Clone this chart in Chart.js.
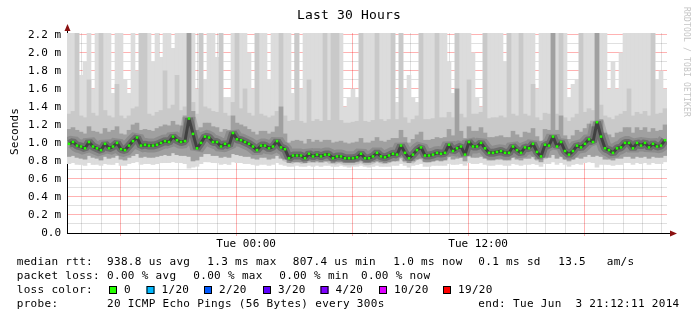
<!DOCTYPE html>
<html>
<head>
<meta charset="utf-8">
<script src="https://cdn.jsdelivr.net/npm/chart.js@4.4.1/dist/chart.umd.min.js"></script>
<style>
  html, body { margin: 0; padding: 0; background: #fff; }
  #wrap { width: 697px; height: 321px; }
</style>
</head>
<body>
<div id="wrap"><canvas id="smoke" width="697" height="321"></canvas></div>
<script>
// --- smokeping "Last 30 Hours" graph, values in ms, one column per 12 minutes ---

const medianRtt = [
  0.99, 1.01, 0.97, 0.96, 0.94, 1.01, 0.96, 0.94, 0.92, 0.99,
  0.94, 0.96, 1.00, 0.93, 0.92, 0.97, 1.02, 1.06, 0.97, 0.98,
  0.97, 0.97, 0.98, 1.00, 1.02, 1.01, 1.07, 1.03, 1.01, 1.02,
  1.27, 1.10, 0.94, 1.00, 1.07, 1.06, 1.01, 1.01, 0.96, 0.99,
  0.97, 1.11, 1.04, 1.03, 1.01, 0.99, 0.96, 0.92, 0.97, 0.97,
  0.94, 0.96, 1.02, 0.95, 0.93, 0.83, 0.86, 0.86, 0.86, 0.83,
  0.88, 0.85, 0.87, 0.85, 0.87, 0.87, 0.83, 0.85, 0.85, 0.83,
  0.83, 0.83, 0.84, 0.88, 0.83, 0.83, 0.85, 0.89, 0.85, 0.84,
  0.86, 0.88, 0.87, 0.97, 0.89, 0.83, 0.87, 0.92, 0.95, 0.86,
  0.86, 0.87, 0.89, 0.88, 0.89, 0.98, 0.91, 0.94, 0.96, 0.87,
  1.01, 0.96, 0.96, 1.00, 0.94, 0.89, 0.89, 0.90, 0.91, 0.89,
  0.89, 0.96, 0.92, 0.89, 0.95, 0.94, 0.99, 0.90, 0.85, 0.98,
  0.97, 1.07, 0.96, 1.01, 0.91, 0.87, 0.91, 0.97, 0.95, 0.99,
  1.04, 1.01, 1.23, 1.07, 0.94, 0.92, 0.89, 0.94, 0.95, 1.00,
  1.00, 0.94, 1.00, 0.97, 1.00, 0.95, 0.99, 0.96, 0.97, 1.03
];

// slowest ping per column (values above 2.22 run off the top)
const maxRtt = [
  2.3, 2.3, 2.3, 1.75, 1.9, 2.3, 1.6, 2.3, 2.3, 2.3,
  2.3, 1.55, 2.3, 2.3, 1.7, 1.55, 2.3, 1.8, 2.3, 2.3,
  2.3, 1.9, 2.3, 1.95, 2.3, 2.3, 2.05, 2.3, 2.3, 2.3,
  2.3, 2.3, 1.6, 2.3, 1.7, 2.3, 2.3, 1.95, 2.3, 1.5,
  1.5, 2.3, 2.3, 2.3, 2.3, 2.0, 1.6, 2.3, 2.3, 2.3,
  1.7, 2.3, 2.3, 2.3, 2.3, 2.3, 1.55, 2.3, 1.6, 2.3,
  2.3, 2.3, 2.3, 2.3, 2.3, 2.3, 2.3, 2.3, 2.3, 1.4,
  1.5, 1.6, 1.5, 2.3, 2.3, 2.3, 2.3, 2.3, 2.3, 2.3,
  2.3, 2.3, 1.45, 2.3, 1.6, 1.75, 1.5, 1.45, 2.3, 2.3,
  2.3, 2.3, 2.3, 2.3, 2.3, 1.9, 1.55, 2.3, 2.3, 2.3,
  2.3, 2.0, 1.5, 1.4, 2.3, 2.3, 2.3, 2.3, 2.3, 1.9,
  2.3, 2.3, 2.3, 2.3, 2.3, 2.3, 2.3, 1.6, 2.3, 2.3,
  2.3, 2.3, 2.3, 2.3, 2.3, 1.5, 1.65, 1.7, 2.3, 2.3,
  2.3, 2.3, 2.3, 2.3, 2.3, 1.6, 1.9, 1.6, 2.0, 2.3,
  2.3, 2.3, 2.3, 2.3, 2.3, 2.3, 2.3, 1.7, 1.8, 1.6
];

// upper edge of the haze (2nd slowest pings)
const hazeRtt = [
  1.32, 1.35, 2.3, 1.30, 1.28, 1.7, 1.33, 1.30, 2.3, 1.36,
  1.30, 1.28, 1.65, 1.30, 1.27, 1.30, 1.38, 1.40, 2.3, 2.3,
  1.32, 1.30, 1.34, 1.36, 1.8, 1.38, 1.42, 1.75, 1.36, 1.40,
  2.3, 1.45, 1.32, 2.3, 1.40, 1.38, 1.35, 1.34, 2.3, 1.33,
  1.30, 1.45, 2.3, 1.38, 1.6, 1.33, 1.30, 2.3, 1.32, 1.30,
  1.28, 1.30, 1.35, 2.3, 1.30, 1.24, 1.25, 2.3, 1.24, 1.22,
  1.7, 1.24, 1.26, 1.24, 2.3, 1.25, 2.3, 2.3, 1.25, 1.22,
  1.22, 1.23, 1.24, 2.3, 1.24, 1.23, 1.25, 2.3, 1.26, 1.24,
  1.26, 2.3, 1.26, 2.3, 1.28, 1.22, 1.26, 1.30, 2.3, 1.26,
  1.26, 1.27, 2.3, 1.28, 1.28, 1.34, 1.28, 2.3, 1.32, 1.28,
  1.7, 1.32, 1.32, 1.34, 2.3, 1.27, 1.28, 1.28, 1.30, 1.28,
  2.3, 1.32, 1.30, 2.3, 1.32, 1.30, 1.65, 1.28, 1.25, 1.33,
  1.32, 2.3, 1.32, 2.3, 1.28, 1.24, 1.28, 1.32, 2.3, 1.34,
  1.38, 1.36, 2.3, 1.42, 1.30, 1.28, 1.26, 1.30, 1.32, 1.35,
  1.6, 1.30, 1.34, 1.32, 1.35, 1.30, 2.3, 1.32, 1.33, 1.38
];

// dark band around the median
const hiRtt = [
  1.15, 1.17, 1.14, 1.12, 1.10, 1.18, 1.13, 1.12, 1.10, 1.16,
  1.12, 1.14, 1.18, 1.10, 1.09, 1.14, 1.20, 1.22, 1.14, 1.15,
  1.14, 1.13, 1.16, 1.18, 1.20, 1.19, 1.24, 1.20, 1.19, 1.30,
  2.30, 1.35, 1.14, 1.17, 1.22, 1.22, 1.18, 1.17, 1.12, 1.15,
  1.14, 1.30, 1.22, 1.20, 1.18, 1.15, 1.12, 1.09, 1.13, 1.13,
  1.10, 1.12, 1.18, 1.40, 1.10, 1.00, 1.02, 1.03, 1.02, 0.99,
  1.04, 1.01, 1.03, 1.01, 1.03, 1.03, 1.00, 1.01, 1.02, 1.00,
  0.99, 1.00, 1.01, 1.05, 1.00, 1.00, 1.02, 1.06, 1.02, 1.01,
  1.03, 1.05, 1.05, 1.14, 1.06, 1.00, 1.04, 1.09, 1.12, 1.03,
  1.03, 1.04, 1.06, 1.05, 1.06, 1.15, 1.08, 1.60, 1.13, 1.05,
  1.18, 1.13, 1.13, 1.17, 1.11, 1.06, 1.06, 1.07, 1.08, 1.06,
  1.06, 1.13, 1.09, 1.06, 1.12, 1.11, 1.16, 1.07, 1.02, 1.15,
  1.14, 2.30, 1.14, 1.30, 1.08, 1.04, 1.08, 1.14, 1.12, 1.16,
  1.21, 1.18, 2.30, 1.26, 1.11, 1.09, 1.06, 1.11, 1.12, 1.17,
  1.17, 1.11, 1.17, 1.14, 1.17, 1.12, 1.16, 1.13, 1.14, 1.20
];

const loRtt = [
  0.85, 0.86, 0.84, 0.83, 0.82, 0.86, 0.84, 0.83, 0.81, 0.85,
  0.83, 0.84, 0.86, 0.82, 0.81, 0.84, 0.86, 0.88, 0.84, 0.85,
  0.84, 0.84, 0.85, 0.86, 0.87, 0.86, 0.89, 0.87, 0.86, 0.86,
  0.85, 0.80, 0.81, 0.85, 0.88, 0.88, 0.86, 0.86, 0.84, 0.85,
  0.84, 0.88, 0.87, 0.86, 0.85, 0.85, 0.83, 0.82, 0.84, 0.84,
  0.82, 0.83, 0.86, 0.83, 0.82, 0.78, 0.79, 0.79, 0.79, 0.78,
  0.80, 0.79, 0.80, 0.79, 0.80, 0.80, 0.78, 0.79, 0.79, 0.78,
  0.78, 0.78, 0.79, 0.80, 0.78, 0.78, 0.79, 0.80, 0.79, 0.78,
  0.79, 0.80, 0.80, 0.84, 0.80, 0.78, 0.80, 0.82, 0.83, 0.79,
  0.79, 0.80, 0.81, 0.80, 0.81, 0.85, 0.82, 0.83, 0.84, 0.80,
  0.86, 0.84, 0.84, 0.85, 0.83, 0.81, 0.81, 0.82, 0.82, 0.81,
  0.81, 0.84, 0.82, 0.81, 0.83, 0.83, 0.85, 0.82, 0.79, 0.84,
  0.84, 0.87, 0.83, 0.85, 0.82, 0.80, 0.82, 0.84, 0.83, 0.85,
  0.87, 0.85, 0.86, 0.85, 0.82, 0.82, 0.81, 0.83, 0.83, 0.85,
  0.85, 0.83, 0.85, 0.84, 0.85, 0.83, 0.85, 0.84, 0.84, 0.86
];

// fastest ping per column
const minRtt = [
  0.77, 0.78, 0.76, 0.76, 0.75, 0.78, 0.76, 0.76, 0.75, 0.77,
  0.76, 0.76, 0.78, 0.75, 0.75, 0.77, 0.78, 0.79, 0.76, 0.77,
  0.77, 0.76, 0.77, 0.78, 0.78, 0.78, 0.79, 0.78, 0.78, 0.77,
  0.72, 0.73, 0.74, 0.77, 0.79, 0.79, 0.78, 0.78, 0.76, 0.77,
  0.76, 0.79, 0.78, 0.78, 0.77, 0.77, 0.76, 0.75, 0.76, 0.76,
  0.75, 0.76, 0.78, 0.76, 0.75, 0.74, 0.74, 0.75, 0.74, 0.74,
  0.75, 0.74, 0.75, 0.74, 0.75, 0.75, 0.74, 0.74, 0.75, 0.74,
  0.73, 0.74, 0.74, 0.75, 0.74, 0.73, 0.74, 0.75, 0.74, 0.74,
  0.74, 0.75, 0.75, 0.77, 0.75, 0.73, 0.75, 0.76, 0.77, 0.74,
  0.74, 0.75, 0.75, 0.75, 0.75, 0.77, 0.76, 0.76, 0.77, 0.75,
  0.78, 0.77, 0.77, 0.78, 0.76, 0.75, 0.75, 0.76, 0.76, 0.75,
  0.75, 0.77, 0.76, 0.75, 0.76, 0.76, 0.77, 0.76, 0.74, 0.77,
  0.77, 0.79, 0.76, 0.78, 0.76, 0.74, 0.76, 0.77, 0.76, 0.78,
  0.79, 0.78, 0.73, 0.76, 0.76, 0.76, 0.75, 0.76, 0.76, 0.78,
  0.78, 0.76, 0.78, 0.77, 0.78, 0.76, 0.78, 0.77, 0.77, 0.79
];

// time axis: hours since Mon 00:00, window Mon 15:15 .. Tue 21:15
const gridHours  = [16, 17, 18, 19, 20, 21, 22, 23, 24, 25, 26, 27, 28, 29, 30,
                    31, 32, 33, 34, 35, 36, 37, 38, 39, 40, 41, 42, 43, 44, 45];
const timeLabels = { 24: 'Tue 00:00', 36: 'Tue 12:00' };
const yLabels    = ['0.0', '0.2 m', '0.4 m', '0.6 m', '0.8 m', '1.0 m',
                    '1.2 m', '1.4 m', '1.6 m', '1.8 m', '2.0 m', '2.2 m'];

const rttStats   = ['938.8 us avg', '1.3 ms max', '807.4 us min', '1.0 ms now', '0.1 ms sd', '13.5', 'am/s'];
const lossStats  = ['0.00 % avg', '0.00 % max', '0.00 % min', '0.00 % now'];
const lossLabels = ['0', '1/20', '2/20', '3/20', '4/20', '10/20', '19/20'];
const lossColors = ['#26ff00', '#00b8ff', '#0059ff', '#5e00ff', '#7e00ff', '#dd00ff', '#ff0000'];
const probeText  = '20 ICMP Echo Pings (56 Bytes) every 300s';
const endText    = 'end: Tue Jun  3 21:12:11 2014';

const MONO   = 'DejaVu Sans Mono';
const RED    = 'rgba(255,0,0,0.3)';
const GRAY   = 'rgba(0,0,0,0.12)';

const columns = medianRtt.map((_, i) => i);

function monoText(ctx, text, x, y, pitch) {
    for (let k = 0; k < text.length; k++) ctx.fillText(text[k], x + k * pitch, y);
}

const decor = {
    id: 'decor',
    afterDraw(chart) {
        const ctx = chart.ctx;
        const a = chart.chartArea;
        ctx.save();
        ctx.fillStyle = '#000';
        ctx.textBaseline = 'middle';
        ctx.textAlign = 'left';

        // title
        ctx.font = '13px ' + MONO;
        monoText(ctx, 'Last 30 Hours', 297, 16, 8);

        // y axis title
        ctx.font = '11px ' + MONO;
        ctx.save();
        ctx.translate(15, 131.5);
        ctx.rotate(-Math.PI / 2);
        monoText(ctx, 'Seconds', -23.5, 0, 6.7);
        ctx.restore();

        // watermark
        ctx.save();
        ctx.fillStyle = '#c4c4c4';
        ctx.font = '8px ' + MONO;
        ctx.translate(686, 7);
        ctx.rotate(Math.PI / 2);
        monoText(ctx, 'RRDTOOL / TOBI OETIKER', 0, 0, 5);
        ctx.restore();

        // axis arrows
        ctx.strokeStyle = '#000';
        ctx.lineWidth = 1;
        ctx.beginPath();
        ctx.moveTo(a.left + 0.5, a.top);
        ctx.lineTo(a.left + 0.5, 29);
        ctx.moveTo(a.right, a.bottom + 0.5);
        ctx.lineTo(671, a.bottom + 0.5);
        ctx.stroke();
        ctx.fillStyle = '#8b1010';
        ctx.beginPath();
        ctx.moveTo(a.left + 0.5, 24);
        ctx.lineTo(a.left - 2.5, 31);
        ctx.lineTo(a.left + 3.5, 31);
        ctx.closePath();
        ctx.fill();
        ctx.beginPath();
        ctx.moveTo(677, a.bottom + 0.5);
        ctx.lineTo(670, a.bottom - 2.5);
        ctx.lineTo(670, a.bottom + 3.5);
        ctx.closePath();
        ctx.fill();

        // legend block
        const P = 6.94;
        ctx.fillStyle = '#000';
        ctx.font = '11px ' + MONO;
        monoText(ctx, 'median rtt:', 16.7, 262, P);
        [107, 207.3, 292.7, 393.3, 478.3, 558.3, 606.7].forEach((x, k) => monoText(ctx, rttStats[k], x, 262, P));
        monoText(ctx, 'packet loss:', 16.7, 276, P);
        [107, 193.3, 279.3, 361].forEach((x, k) => monoText(ctx, lossStats[k], x, 276, P));
        monoText(ctx, 'loss color:', 16.7, 290, P);
        const boxX = [109, 146.5, 204, 263, 320.5, 379, 443];
        boxX.forEach((x, k) => {
            ctx.fillStyle = lossColors[k];
            ctx.fillRect(x, 286, 8, 8);
            ctx.strokeStyle = '#000';
            ctx.strokeRect(x + 0.5, 286.5, 7, 7);
            ctx.fillStyle = '#000';
            monoText(ctx, lossLabels[k], x + 15, 290, P);
        });
        monoText(ctx, 'probe:', 16.7, 304, P);
        monoText(ctx, probeText, 107, 304, P);
        monoText(ctx, endText, 478.3, 304, P);
        ctx.restore();
    }
};

const band = (lo, hi, color, order) => ({
    type: 'bar',
    data: lo.map((v, i) => [v, hi[i]]),
    xAxisID: 'xc',
    yAxisID: 'y',
    backgroundColor: color,
    borderWidth: 0,
    grouped: false,
    barPercentage: 1,
    categoryPercentage: 1,
    clip: 0,
    order
});

// darker halo that follows the median
const halo = (width, color, order) => ({
    type: 'line',
    data: medianRtt,
    xAxisID: 'xc', yAxisID: 'y',
    borderColor: color,
    borderWidth: width,
    borderJoinStyle: 'bevel',
    pointRadius: 0,
    clip: 0,
    order
});

new Chart(document.getElementById('smoke'), {
    type: 'bar',
    data: {
        labels: columns,
        datasets: [
            band(minRtt, maxRtt, '#dcdcdc', 9),
            band(loRtt, hazeRtt, '#c9c9c9', 8),
            band(loRtt, hiRtt, '#a0a0a0', 7),
            halo(14, 'rgba(0,0,0,0.12)', 6),
            halo(8, 'rgba(0,0,0,0.22)', 5),
            halo(3, 'rgba(0,0,0,0.4)', 4),
            {
                type: 'line',
                data: medianRtt,
                xAxisID: 'xc', yAxisID: 'y',
                showLine: false,
                pointStyle: 'rect',
                pointRadius: 1.8,
                pointBorderWidth: 0,
                pointBackgroundColor: '#22ff00',
                clip: 0,
                order: 1
            }
        ]
    },
    options: {
        responsive: false,
        animation: false,
        events: [],
        layout: { padding: { left: 0, right: 30, top: 33, bottom: 66 } },
        plugins: { legend: { display: false }, tooltip: { enabled: false }, title: { display: false } },
        scales: {
            xc: { type: 'category', display: false, offset: true },
            x: {
                type: 'linear', position: 'bottom', min: 15.25, max: 45.25, z: 1,
                afterBuildTicks: s => { s.ticks = gridHours.map(h => ({ value: h })); },
                afterFit: s => { s.height = 22; },
                ticks: {
                    autoSkip: false, maxRotation: 0, padding: 2, color: '#000',
                    font: { family: MONO, size: 11 },
                    callback: v => timeLabels[v] || ''
                },
                grid: {
                    color: c => (c.tick && c.tick.value % 6 === 0) ? RED : GRAY,
                    tickColor: c => (c.tick && c.tick.value % 6 === 0) ? RED : 'rgba(0,0,0,0)',
                    tickLength: 3
                },
                border: { display: true, color: '#000', width: 1 }
            },
            y: {
                min: 0, max: 2.22, position: 'left', z: 1,
                afterFit: s => { s.width = 67; },
                ticks: {
                    stepSize: 0.1, includeBounds: false, autoSkip: false, padding: 6, color: '#000',
                    font: { family: MONO, size: 11 },
                    callback: v => {
                        const t = Math.round(v * 10);
                        return t % 2 ? '' : yLabels[t / 2];
                    }
                },
                grid: {
                    drawTicks: false,
                    color: c => (Math.round(c.tick.value * 10) % 2 === 0) ? RED : GRAY
                },
                border: { display: true, color: '#000', width: 1 }
            }
        }
    },
    plugins: [decor]
});
</script>
</body>
</html>
